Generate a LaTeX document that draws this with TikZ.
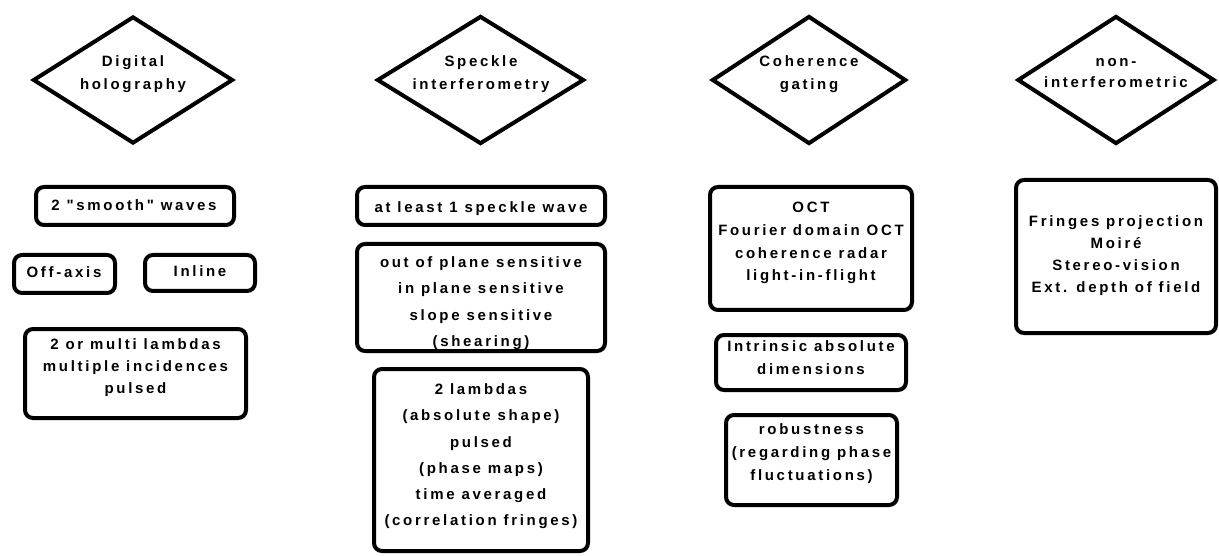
\documentclass[tikz,border=0pt]{standalone}
\usepackage{fontspec}
\usetikzlibrary{shapes.geometric}
\newfontfamily\boxfont{Liberation Sans}[LetterSpace=18]

% text lines: struts of equal height and depth, so a node's centre lies
% midway between its first and last baselines
\newcommand\topstrut{\rule{0pt}{13pt}}
\newcommand\botstrut{\rule[-13pt]{0pt}{13pt}}

\tikzset{
  decision/.style={diamond, draw, line width=4pt, inner sep=0pt, minimum width=#1},
  card/.style={draw, line width=4pt, rounded corners=8pt, inner sep=0pt, rectangle},
  words/.style={align=center, inner sep=0pt,
    font=\boxfont\bfseries\fontsize{15}{#1}\selectfont,
    execute at begin node=\topstrut, execute at end node=\botstrut},
  words/.default=22
}

\begin{document}
\begin{tikzpicture}[x=1pt,y=-1pt]
\useasboundingbox (0,0) rectangle (1219,556);

% ---- method classes ----
\node[decision=200, minimum height=127] (dh) at (133,80) {};
\node[decision=207, minimum height=128] (si) at (480.5,80) {};
\node[decision=194, minimum height=128] (cg) at (809,80) {};
\node[decision=197, minimum height=128] (ni) at (1116,80) {};

\node[words=22.5] (dht) at (133,79) {Digital\\holography};
\node[words=22.5] (sit) at (481,79) {Speckle\\interferometry};
\node[words=22.5] (cgt) at (809,79) {Coherence\\gating};
\node[words=21] (nit) at (1116,79.5) {non-\\interferometric};

% ---- digital holography ----
\node[card, minimum width=198, minimum height=38] (smooth) at (135,206) {};
\node[words] (smootht) at (134,210.5) {2 "smooth" waves};
\node[card, minimum width=101, minimum height=38] (offaxis) at (64.5,274) {};
\node[words] (offaxist) at (64,277.5) {Off-axis};
\node[card, minimum width=110, minimum height=36] (inline) at (200,273) {};
\node[words] (inlinet) at (200,276.5) {Inline};
\node[card, minimum width=221, minimum height=89] (multi) at (135.5,373.5) {};
\node[words=21.7] (multit) at (135.5,372.5) {2 or multi lambdas\\multiple incidences\\pulsed};

% ---- speckle interferometry ----
\node[card, minimum width=248, minimum height=38] (speckle) at (481,206) {};
\node[words] (specklet) at (481,213) {at least 1 speckle wave};
\node[card, minimum width=248, minimum height=107] (sens) at (481,297.5) {};
\node[words=26.5] (senst) at (481,308) {out of plane sensitive\\in plane sensitive\\slope sensitive\\(shearing)};
\node[card, minimum width=214, minimum height=182] (lambdas) at (481,460) {};
\node[words=26.3] (lambdast) at (481,461.3) {2 lambdas\\(absolute shape)\\pulsed\\(phase maps)\\time averaged\\(correlation fringes)};

% ---- coherence gating ----
\node[card, minimum width=202, minimum height=123] (oct) at (811,248.5) {};
\node[words=22.8] (octt) at (811,248) {OCT\\Fourier domain OCT\\coherence radar\\light-in-flight};
\node[card, minimum width=190, minimum height=55] (absdim) at (811,362.5) {};
\node[words=23.3] (absdimt) at (811,363.8) {Intrinsic absolute\\dimensions};
\node[card, minimum width=171, minimum height=90] (robust) at (811.5,460) {};
\node[words=23] (robustt) at (811.5,458.5) {robustness\\(regarding phase\\fluctuations)};

% ---- non-interferometric ----
\node[card, minimum width=200, minimum height=153] (fringes) at (1116,256.5) {};
\node[words=22.2] (fringest) at (1116,260.5) {Fringes projection\\Moiré\\Stereo-vision\\Ext. depth of field};
\end{tikzpicture}
\end{document}
